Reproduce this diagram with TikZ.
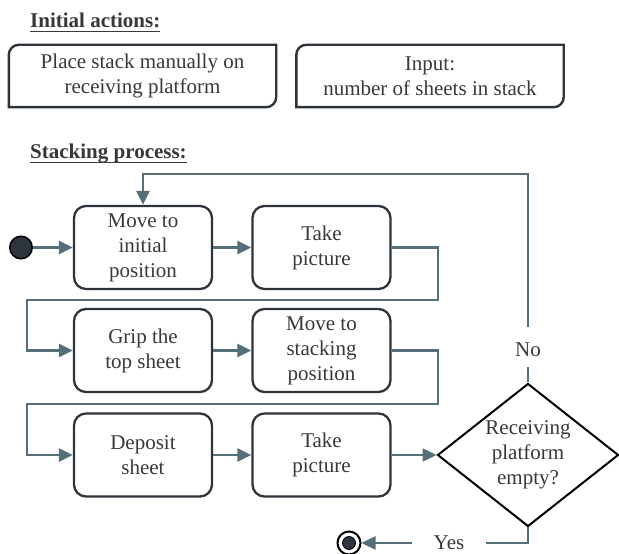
\documentclass[tikz,border=0pt]{standalone}
\usepackage{fontspec}
\setmainfont{Liberation Serif}
\usetikzlibrary{arrows.meta,shapes.geometric}
\definecolor{flowline}{HTML}{546E7A}
\definecolor{boxedge}{HTML}{2E343B}
\definecolor{inktext}{HTML}{383838}
\definecolor{dotfill}{HTML}{2E343D}

\begin{document}
\begin{tikzpicture}[x=1pt,y=1pt,
  txt/.style={font=\fontsize{21}{25}\selectfont, text=inktext},
  heading/.style={txt, font=\fontsize{21}{25}\selectfont\bfseries, inner sep=0pt, anchor=base west},
  action/.style={txt, align=center, rounded corners=12pt, draw=boxedge, line width=2.3pt,
    minimum width=138pt, minimum height=83pt, inner sep=2pt},
  prep/.style={txt, align=center, minimum width=267pt, minimum height=62pt, inner sep=0pt},
  decision/.style={txt, align=center, diamond, aspect=1.27, draw=black, line width=2pt,
    minimum width=181pt, minimum height=143pt, inner sep=0pt},
  flow/.style={draw=flowline, line width=2.4pt},
  arr/.style={flow, -{Triangle[length=14pt,width=13pt]}},
  guard/.style={txt, inner sep=0pt},
  underl/.style={draw=inktext, line width=1.4pt},
  prepedge/.style={draw=boxedge, line width=2.4pt},
]
\useasboundingbox (0,0) rectangle (619,554);

% section headings with underline
\node[heading] (h1) at (30,526) {Initial actions:};
\draw[underl] ([yshift=-3.5pt]h1.base west) -- ([yshift=-3.5pt]h1.base east);
\node[heading] (h2) at (30,395) {Stacking process:};
\draw[underl] ([yshift=-3.5pt]h2.base west) -- ([yshift=-3.5pt]h2.base east);

% preparation boxes: rounded top-left and bottom-right corners only
\node[prep] (p1) at (142.5,478) {Place stack manually on\\receiving platform};
\node[prep] (p2) at (430,478) {Input:\\number of sheets in stack};
\foreach \p in {p1,p2}{
  \draw[prepedge] ([xshift=10pt]\p.north west) -- (\p.north east)
    -- ([yshift=10pt]\p.south east) arc[start angle=0, end angle=-90, radius=10pt]
    -- (\p.south west) -- ([yshift=-10pt]\p.north west)
    arc[start angle=180, end angle=90, radius=10pt] -- cycle;
}

% process steps
\node[action] (a) at (143,306.5) {Move to\\initial\\position};
\node[action] (b) at (321.5,306.5) {Take\\picture};
\node[action] (c) at (143,203.5) {Grip the\\top sheet};
\node[action] (d) at (321.5,203.5) {Move to\\stacking\\position};
\node[action] (e) at (143,99) {Deposit\\sheet};
\node[action] (f) at (321.5,99) {Take\\picture};
\node[decision] (q) at (528,99) {Receiving\\platform\\empty?};

% start and end markers
\node[circle, fill=dotfill, draw=black, line width=1.5pt, minimum size=22.5pt, inner sep=0pt] (start) at (21,306.5) {};
\node[circle, draw=black, fill=white, line width=2pt, minimum size=23pt, inner sep=0pt] (stop) at (349,11) {};
\fill[dotfill, draw=black, line width=0.8pt] (stop.center) circle (6.5pt);

% branch labels
\node[guard, anchor=base, text height=20pt, text depth=0pt, inner ysep=10pt] (no) at (528,197) {No};
\node[guard, inner xsep=22pt] (yes) at (449,11) {Yes};

% routing points
\coordinate (r1) at (438,254);
\coordinate (l1) at (27,254);
\coordinate (r2) at (438,150);
\coordinate (l2) at (27,150);
\coordinate (loop) at (528,380);

% connectors
\draw[arr] (start) -- (a);
\draw[arr] (a) -- (b);
\draw[arr] (b.east) -| (r1) -- (l1) |- (c.west);
\draw[arr] (c) -- (d);
\draw[arr] (d.east) -| (r2) -- (l2) |- (e.west);
\draw[arr] (e) -- (f);
\draw[arr] (f) -- (q);
\draw[flow] (q.north) -- (no.south);
\draw[arr] (no.north) -- (loop) -| (a.north);
\draw[flow] (q.south) |- (yes.east);
\draw[arr] (yes.west) -- (stop);
\end{tikzpicture}
\end{document}
